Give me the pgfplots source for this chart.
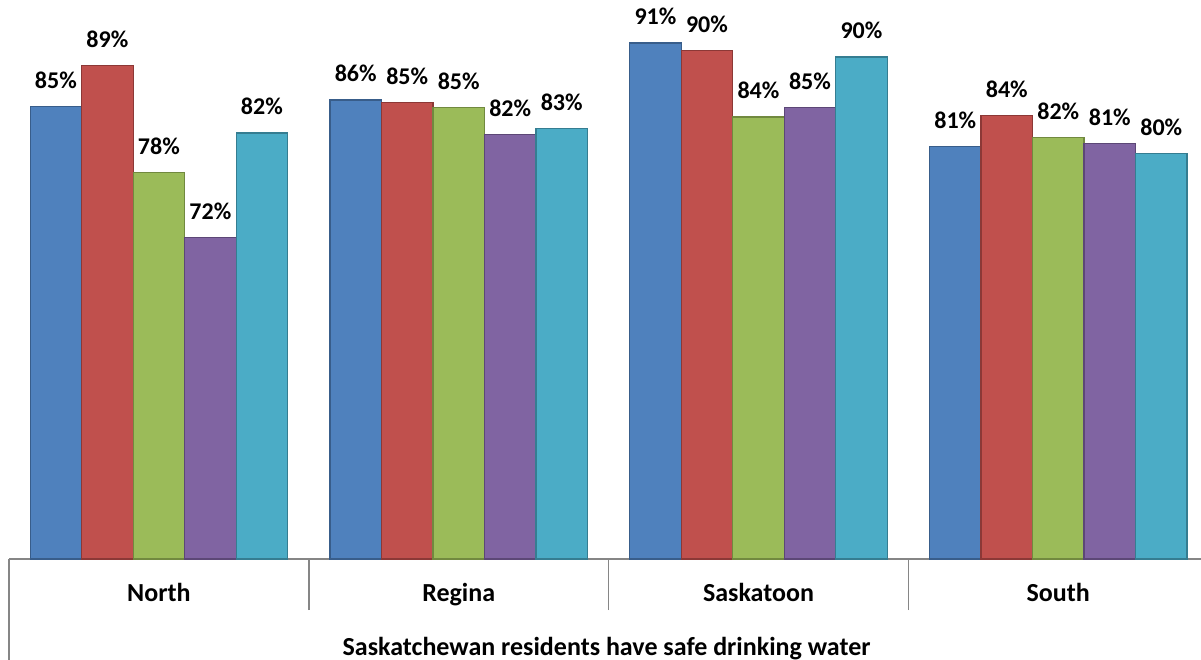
\documentclass[border=0pt]{standalone}
\usepackage{pgfplots}
\pgfplotsset{compat=1.18}
\usepackage{fontspec}
\setmainfont{Carlito}
\definecolor{cA}{HTML}{4F81BD}
\definecolor{cAd}{HTML}{385D8A}
\definecolor{cB}{HTML}{C0504D}
\definecolor{cBd}{HTML}{8C3836}
\definecolor{cC}{HTML}{9BBB59}
\definecolor{cCd}{HTML}{71893F}
\definecolor{cD}{HTML}{8064A2}
\definecolor{cDd}{HTML}{5C4776}
\definecolor{cE}{HTML}{4BACC6}
\definecolor{cEd}{HTML}{357D91}
\definecolor{axisgray}{HTML}{868686}
\begin{document}
\begin{tikzpicture}
\begin{axis}[
  at={(0,0)}, anchor=south west,
  scale only axis, width=1199.2pt, height=559pt,
  xmin=-0.5, xmax=3.5, ymin=40, ymax=95.5,
  clip=false,
  ybar=0pt, bar width=51.5pt,
  axis y line=none, axis x line*=bottom,
  x axis line style={draw=axisgray, line width=1.5pt, -},
  xtick={0,1,2,3},
  xticklabels={North,Regina,Saskatoon,South},
  major tick length=0pt,
  xticklabel style={anchor=base, yshift=-43pt, font=\fontsize{26}{30}\selectfont\bfseries, inner sep=0pt},
  extra x ticks={-0.5,0.5,1.5,2.5},
  extra x tick labels={},
  extra x tick style={major tick length=51pt, tick align=outside, tick style={draw=axisgray, line width=1.5pt}},
  /pgf/number format/assume math mode=true,
  nodes near coords={\fontsize{24}{28}\selectfont\bfseries\pgfmathprintnumber[fixed,precision=0]{\pgfplotspointmeta}\%},
  every node near coord/.append style={anchor=base, yshift=18pt, inner sep=0pt, text=black},
]
\addplot[fill=cA, draw=cAd, line width=1.2pt] coordinates {(0,84.89) (1,85.58) (2,91.24) (3,80.94)};
\addplot[fill=cB, draw=cBd, line width=1.2pt] coordinates {(0,88.96) (1,85.35) (2,90.45) (3,84.02)};
\addplot[fill=cC, draw=cCd, line width=1.2pt] coordinates {(0,78.36) (1,84.79) (2,83.89) (3,81.84)};
\addplot[fill=cD, draw=cDd, line width=1.2pt] coordinates {(0,71.91) (1,82.17) (2,84.79) (3,81.24)};
\addplot[fill=cE, draw=cEd, line width=1.2pt] coordinates {(0,82.30) (1,82.77) (2,89.85) (3,80.22)};
\draw[axisgray, line width=1.5pt] (rel axis cs:0,0) -- ++(0pt,-101pt);
\node[anchor=base, font=\fontsize{26}{30}\selectfont\bfseries, inner sep=0pt] at (rel axis cs:0.5,0) [yshift=-96pt, xshift=-2pt] {Saskatchewan residents have safe drinking water};
\end{axis}
\pgfresetboundingbox
\useasboundingbox (-9pt,-101pt) rectangle (1192pt,559pt);
\end{tikzpicture}
\end{document}
